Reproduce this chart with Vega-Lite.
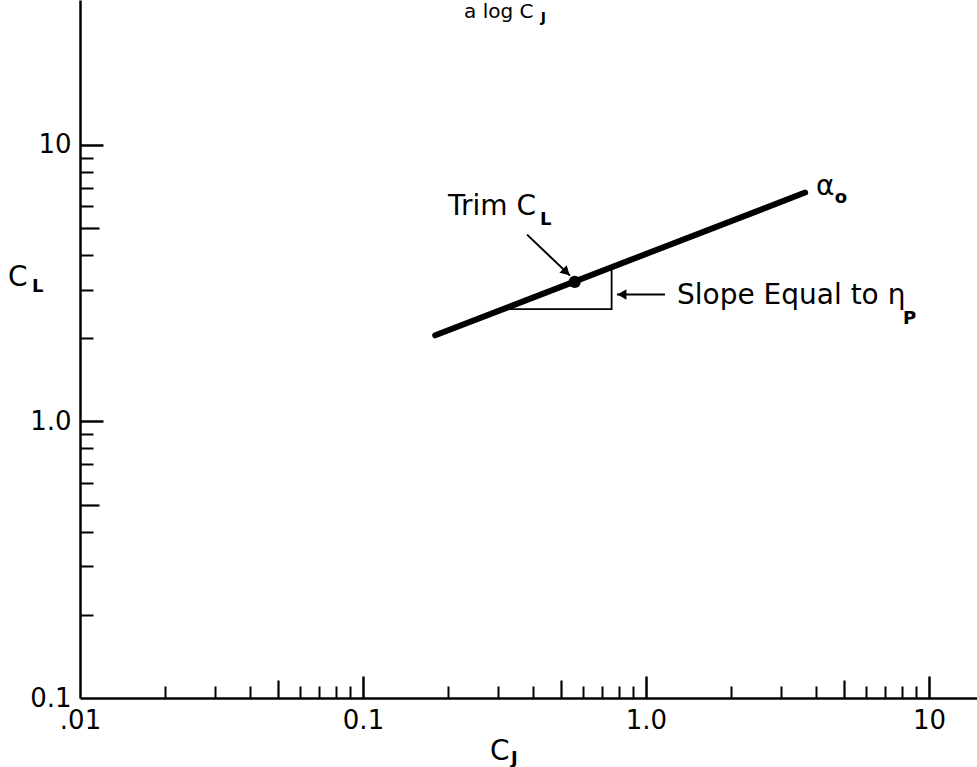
{
  "$schema": "https://vega.github.io/schema/vega-lite/v6.json",
  "width": 897,
  "height": 698,
  "autosize": "none",
  "padding": {"left": 80, "top": 0, "right": 0, "bottom": 69},
  "background": "white",
  "config": {"view": {"stroke": null}, "axis": {"grid": false, "title": null}},
  "datasets": {
    "line": [{"cj": 0.18, "cl": 2.05}, {"cj": 3.65, "cl": 6.73}],
    "tri": [{"cj": 0.31, "cl": 2.55, "k": 1}, {"cj": 0.756, "cl": 2.55, "k": 2}, {"cj": 0.756, "cl": 3.61, "k": 3}],
    "trim": [{"cj": 0.56, "cl": 3.2}],
    "arrow1": [{"cj": 0.38, "cl": 4.74}, {"cj": 0.539, "cl": 3.37}],
    "head1": [{"cj": 0.523, "cl": 3.47}],
    "arrow2": [{"cj": 1.167, "cl": 2.88}, {"cj": 0.79, "cl": 2.88}],
    "head2": [{"cj": 0.822, "cl": 2.88}],
    "mainText": [
      {"cj": 0.1998, "cl": 5.59, "t": "Trim C"},
      {"cj": 1.287, "cl": 2.67, "t": "Slope Equal to η"},
      {"cj": 3.99, "cl": 6.6, "t": "α"},
      {"cj": 0.00557, "cl": 3.08, "t": "C"},
      {"cj": 0.2811, "cl": 0.0598, "t": "C"}
    ],
    "subText": [
      {"cj": 0.422, "cl": 5.15, "t": "L"},
      {"cj": 8.09, "cl": 2.245, "t": "P"},
      {"cj": 4.65, "cl": 6.18, "t": "o"},
      {"cj": 0.00677, "cl": 2.93, "t": "L"},
      {"cj": 0.3334, "cl": 0.0578, "t": "J"}
    ],
    "topText": [{"cj": 0.2275, "cl": 28.8, "t": "a log C"}],
    "topSub": [{"cj": 0.425, "cl": 27.9, "t": "J"}]
  },
  "resolve": {"axis": {"x": "independent", "y": "independent"}},
  "layer": [
    {
      "data": {"name": "line"},
      "mark": {"type": "line", "color": "black", "strokeWidth": 6, "strokeCap": "round"},
      "encoding": {
        "x": {"field": "cj", "type": "quantitative",
          "scale": {"type": "log", "domain": [0.01, 14.78], "nice": false},
          "axis": {"orient": "bottom", "values": [0.01, 0.1, 1, 10], "ticks": false, "domain": true, "domainColor": "black", "domainWidth": 2.5,
            "labelExpr": "datum.value < 0.05 ? '.01' : datum.value < 0.5 ? '0.1' : datum.value < 5 ? '1.0' : '10'",
            "labelFont": "DejaVu Sans", "labelFontSize": 26, "labelColor": "black", "labelPadding": 9, "labelFlush": false, "labelOverlap": false}},
        "y": {"field": "cl", "type": "quantitative",
          "scale": {"type": "log", "domain": [0.1, 33.45], "nice": false},
          "axis": {"orient": "left", "values": [0.1, 1, 10], "ticks": false, "domain": true, "domainColor": "black", "domainWidth": 2.5,
            "labelExpr": "datum.value < 0.5 ? '0.1' : datum.value < 5 ? '1.0' : '10'",
            "labelFont": "DejaVu Sans", "labelFontSize": 26, "labelColor": "black", "labelPadding": 9, "labelFlush": false, "labelOverlap": false}}
      }
    },
    {
      "data": {"name": "tri"},
      "mark": {"type": "line", "color": "black", "strokeWidth": 1.8},
      "encoding": {
        "x": {"field": "cj", "type": "quantitative", "scale": {"type": "log", "domain": [0.01, 14.78], "nice": false},
          "axis": {"orient": "bottom", "values": [0.1, 1, 10], "labels": false, "domain": false, "tickSize": -22, "tickWidth": 2.5, "tickColor": "black"}},
        "y": {"field": "cl", "type": "quantitative", "scale": {"type": "log", "domain": [0.1, 33.45], "nice": false},
          "axis": {"orient": "left", "values": [1, 10], "labels": false, "domain": false, "tickSize": -23, "tickWidth": 2.5, "tickColor": "black"}},
        "order": {"field": "k", "type": "quantitative"}
      }
    },
    {
      "data": {"name": "trim"},
      "mark": {"type": "point", "shape": "circle", "filled": true, "color": "black", "size": 150, "opacity": 1},
      "encoding": {
        "x": {"field": "cj", "type": "quantitative", "scale": {"type": "log", "domain": [0.01, 14.78], "nice": false},
          "axis": {"orient": "bottom", "values": [0.05, 0.5, 5], "labels": false, "domain": false, "tickSize": -18, "tickWidth": 2.2, "tickColor": "black"}},
        "y": {"field": "cl", "type": "quantitative", "scale": {"type": "log", "domain": [0.1, 33.45], "nice": false},
          "axis": {"orient": "left", "values": [0.5, 5], "labels": false, "domain": false, "tickSize": -19, "tickWidth": 2.2, "tickColor": "black"}}
      }
    },
    {
      "data": {"name": "arrow1"},
      "mark": {"type": "line", "color": "black", "strokeWidth": 2},
      "encoding": {
        "x": {"field": "cj", "type": "quantitative", "scale": {"type": "log", "domain": [0.01, 14.78], "nice": false},
          "axis": {"orient": "bottom", "values": [0.02, 0.03, 0.04, 0.06, 0.07, 0.08, 0.09, 0.2, 0.3, 0.4, 0.6, 0.7, 0.8, 0.9, 2, 3, 4, 6, 7, 8, 9], "labels": false, "domain": false, "tickSize": -12, "tickWidth": 2, "tickColor": "black"}},
        "y": {"field": "cl", "type": "quantitative", "scale": {"type": "log", "domain": [0.1, 33.45], "nice": false},
          "axis": {"orient": "left", "values": [0.2, 0.3, 0.4, 0.6, 0.7, 0.8, 0.9, 2, 3, 4, 6, 7, 8, 9], "labels": false, "domain": false, "tickSize": -13, "tickWidth": 2, "tickColor": "black"}}
      }
    },
    {
      "data": {"name": "head1"},
      "mark": {"type": "point", "shape": "triangle-right", "filled": true, "color": "black", "size": 110, "angle": 44, "opacity": 1},
      "encoding": {
        "x": {"field": "cj", "type": "quantitative", "scale": {"type": "log", "domain": [0.01, 14.78], "nice": false}, "axis": null},
        "y": {"field": "cl", "type": "quantitative", "scale": {"type": "log", "domain": [0.1, 33.45], "nice": false}, "axis": null}
      }
    },
    {
      "data": {"name": "arrow2"},
      "mark": {"type": "line", "color": "black", "strokeWidth": 2},
      "encoding": {
        "x": {"field": "cj", "type": "quantitative", "scale": {"type": "log", "domain": [0.01, 14.78], "nice": false}, "axis": null},
        "y": {"field": "cl", "type": "quantitative", "scale": {"type": "log", "domain": [0.1, 33.45], "nice": false}, "axis": null}
      }
    },
    {
      "data": {"name": "head2"},
      "mark": {"type": "point", "shape": "triangle-left", "filled": true, "color": "black", "size": 110, "opacity": 1},
      "encoding": {
        "x": {"field": "cj", "type": "quantitative", "scale": {"type": "log", "domain": [0.01, 14.78], "nice": false}, "axis": null},
        "y": {"field": "cl", "type": "quantitative", "scale": {"type": "log", "domain": [0.1, 33.45], "nice": false}, "axis": null}
      }
    },
    {
      "data": {"name": "mainText"},
      "mark": {"type": "text", "align": "left", "baseline": "alphabetic", "font": "DejaVu Sans", "fontSize": 28, "color": "black"},
      "encoding": {
        "x": {"field": "cj", "type": "quantitative", "scale": {"type": "log", "domain": [0.01, 14.78], "nice": false}, "axis": null},
        "y": {"field": "cl", "type": "quantitative", "scale": {"type": "log", "domain": [0.1, 33.45], "nice": false}, "axis": null},
        "text": {"field": "t"}
      }
    },
    {
      "data": {"name": "subText"},
      "mark": {"type": "text", "align": "left", "baseline": "alphabetic", "font": "DejaVu Sans", "fontSize": 18, "fontWeight": "bold", "color": "black"},
      "encoding": {
        "x": {"field": "cj", "type": "quantitative", "scale": {"type": "log", "domain": [0.01, 14.78], "nice": false}, "axis": null},
        "y": {"field": "cl", "type": "quantitative", "scale": {"type": "log", "domain": [0.1, 33.45], "nice": false}, "axis": null},
        "text": {"field": "t"}
      }
    },
    {
      "data": {"name": "topText"},
      "mark": {"type": "text", "align": "left", "baseline": "alphabetic", "font": "DejaVu Sans", "fontSize": 20, "color": "black"},
      "encoding": {
        "x": {"field": "cj", "type": "quantitative", "scale": {"type": "log", "domain": [0.01, 14.78], "nice": false}, "axis": null},
        "y": {"field": "cl", "type": "quantitative", "scale": {"type": "log", "domain": [0.1, 33.45], "nice": false}, "axis": null},
        "text": {"field": "t"}
      }
    },
    {
      "data": {"name": "topSub"},
      "mark": {"type": "text", "align": "left", "baseline": "alphabetic", "font": "DejaVu Sans", "fontSize": 14, "fontWeight": "bold", "color": "black"},
      "encoding": {
        "x": {"field": "cj", "type": "quantitative", "scale": {"type": "log", "domain": [0.01, 14.78], "nice": false}, "axis": null},
        "y": {"field": "cl", "type": "quantitative", "scale": {"type": "log", "domain": [0.1, 33.45], "nice": false}, "axis": null},
        "text": {"field": "t"}
      }
    }
  ]
}
